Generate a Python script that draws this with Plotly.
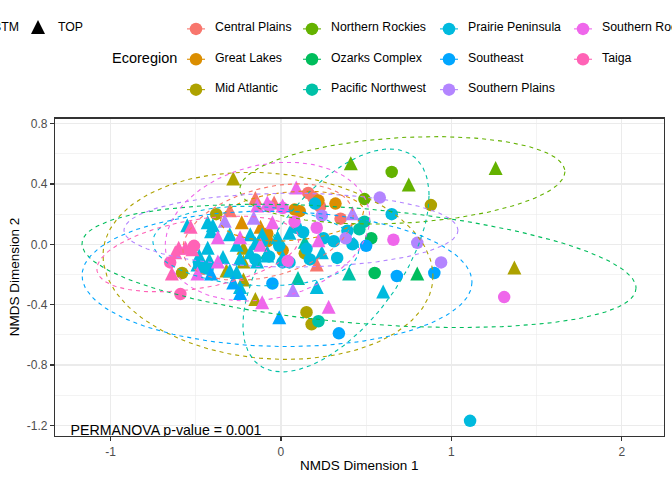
import numpy as np
import plotly.graph_objects as go

FONT = "Liberation Sans, Arial, sans-serif"

ECOREGIONS = ["Central Plains", "Great Lakes", "Mid Atlantic", "Northern Rockies",
              "Ozarks Complex", "Pacific Northwest", "Prairie Peninsula", "Southeast",
              "Southern Plains", "Southern Rockies", "Taiga"]
COLORS = ["#F8766D", "#DB8E00", "#AEA200", "#64B200", "#00BD5C", "#00C1A7",
          "#00BADE", "#00A6FF", "#B385FF", "#EF67EB", "#FF63B6"]

# ---- NMDS scores ----
CP_X = [-0.15, -0.30, -0.04, 0.21, 0.16, 0.19, 0.23, 0.35]
CP_Y = [0.30, 0.22, 0.27, -0.14, 0.34, 0.31, 0.25, 0.17]
CP_POS = ["TOP", "TOP", "TOP", "TOP", "BTM", "BTM", "BTM", "BTM"]

GL_X = [0.32, 0.22, 0.11, 0.08, -0.08, -0.08, 0.01, -0.23, -0.12]
GL_Y = [0.27, 0.29, 0.22, 0.23, 0.07, 0.02, -0.04, 0.14, 0.11]
GL_POS = ["BTM", "BTM", "BTM", "BTM", "BTM", "BTM", "BTM", "TOP", "TOP"]

MA_X = [-0.28, -0.38, -0.58, -0.22, -0.22, -0.32, -0.15, 0.14, 0.15, 0.18, 0.88, 1.37, -0.22]
MA_Y = [0.43, 0.20, -0.19, -0.03, -0.24, -0.18, -0.37, -0.06, -0.45, -0.53, 0.26, -0.16, -0.12]
MA_POS = ["TOP", "BTM", "BTM", "TOP", "TOP", "TOP", "TOP", "BTM", "BTM", "BTM", "BTM", "TOP", "TOP"]

NR_X = [0.41, 0.65, 0.75, 1.26, 0.49]
NR_Y = [0.53, 0.48, 0.39, 0.50, 0.30]
NR_POS = ["TOP", "BTM", "TOP", "TOP", "BTM"]

OZ_X = [0.53, 0.55, 0.80]
OZ_Y = [0.04, -0.19, -0.20]
OZ_POS = ["BTM", "BTM", "TOP"]

PNW_X = [0.49, 0.46, 0.40, 0.10, 0.14, 0.22]
PNW_Y = [0.15, 0.10, -0.20, -0.23, 0.01, -0.51]
PNW_POS = ["BTM", "BTM", "TOP", "TOP", "TOP", "BTM"]

PP_X = [0.65, 0.20, 0.09, 0.13, 0.15, 0.25, 0.31, 0.33, 0.39, 0.42, 0.17, 1.11,
        -0.01, 0.05, -0.11, -0.07, -0.15, 0.01, -0.48, -0.43,
        -0.55, -0.43, -0.41, -0.30, -0.26, -0.18, -0.15, -0.11, -0.08, -0.43,
        -0.48, -0.42, -0.34, -0.24, -0.18, -0.46, -0.30, -0.26, -0.14, -0.49,
        -0.24, -0.02, 0.05, 0.01, -0.08, 0.24, 0.21, 0.60, -0.40]
PP_Y = [0.20, 0.27, 0.11, 0.08, -0.03, 0.04, 0.02, -0.09, 0.09, 0.00, -0.10, -1.17,
        -0.01, -0.12, 0.02, -0.08, -0.10, -0.12, -0.13, -0.16,
        0.12, 0.14, 0.08, 0.06, -0.01, 0.06, 0.00, 0.06, -0.06, -0.03,
        -0.08, -0.11, -0.09, -0.10, -0.06, -0.16, -0.18, -0.19, -0.12, -0.14,
        -0.29, 0.04, 0.07, -0.09, -0.08, -0.06, -0.29, -0.32, 0.12]
PP_POS = ["BTM"] * 20 + ["TOP"] * 29

SE_X = [0.50, 0.68, 0.90, -0.05, 0.34, -0.41, -0.28, -0.24, -0.01]
SE_Y = [-0.01, -0.21, -0.19, -0.26, -0.59, -0.20, -0.26, -0.33, -0.49]
SE_POS = ["BTM", "BTM", "BTM", "BTM", "BTM", "TOP", "TOP", "TOP", "TOP"]

SP_X = [-0.33, -0.16, 0.42, 0.07, 0.24, 0.38, 0.58, 0.80, 0.94]
SP_Y = [0.15, 0.17, 0.20, -0.31, 0.19, 0.04, 0.31, 0.01, -0.12]
SP_POS = ["TOP", "TOP", "TOP", "TOP", "BTM", "BTM", "BTM", "BTM", "BTM"]

SR_X = [0.09, -0.14, -0.08, 0.01, -0.05, -0.37, -0.24, -0.12, -0.37, -0.49, -0.11, 0.28, 0.22,
        -0.07, 0.01, 0.08, 0.21, 0.04, 0.66, 1.31]
SR_Y = [0.37, 0.25, 0.27, 0.25, 0.14, 0.04, 0.04, -0.01, -0.12, -0.20, -0.39, -0.42, 0.02,
        0.25, 0.24, 0.15, 0.11, -0.11, 0.03, -0.35]
SR_POS = ["TOP"] * 13 + ["BTM"] * 7

TA_X = [-0.53, -0.60, -0.56, -0.52, -0.62, -0.64, -0.65, -0.59, -0.51]
TA_Y = [0.11, -0.03, -0.03, -0.04, -0.06, -0.20, -0.12, -0.33, -0.01]
TA_POS = ["TOP", "TOP", "TOP", "TOP", "TOP", "TOP", "BTM", "BTM", "BTM"]

# ---- 95% ellipse summaries per ecoregion (centre, half-extent, correlation) ----
ELL_CX = [-0.076, 0.065, -0.076, 0.713, 0.458, 0.323, -0.147, -0.023, 0.059, -0.079, -0.487]
ELL_CY = [0.081, 0.187, -0.143, 0.424, -0.143, -0.107, -0.011, -0.229, 0.094, 0.084, -0.064]
ELL_HX = [0.50, 0.42, 0.968, 0.954, 1.626, 0.546, 0.604, 1.144, 0.98, 0.60, 0.593]
ELL_HY = [0.32, 0.165, 0.62, 0.29, 0.409, 0.739, 0.264, 0.449, 0.245, 0.46, 0.251]
ELL_R = [0.35, 0.2, -0.11, 0.2, -0.36, 0.58, -0.1, -0.05, 0.0, 0.2, 0.4]

X_TICKS = [-1, 0, 1, 2]
X_TICKTEXT = ["-1", "0", "1", "2"]
Y_TICKS = [-1.2, -0.8, -0.4, 0.0, 0.4, 0.8]
Y_TICKTEXT = ["-1.2", "-0.8", "-0.4", "0.0", "0.4", "0.8"]
PERMANOVA_LABEL = "PERMANOVA p-value = 0.001"
POSITIONS = ["BTM", "TOP"]

REGION_DATA = {
    "Central Plains": (CP_X, CP_Y, CP_POS),
    "Great Lakes": (GL_X, GL_Y, GL_POS),
    "Mid Atlantic": (MA_X, MA_Y, MA_POS),
    "Northern Rockies": (NR_X, NR_Y, NR_POS),
    "Ozarks Complex": (OZ_X, OZ_Y, OZ_POS),
    "Pacific Northwest": (PNW_X, PNW_Y, PNW_POS),
    "Prairie Peninsula": (PP_X, PP_Y, PP_POS),
    "Southeast": (SE_X, SE_Y, SE_POS),
    "Southern Plains": (SP_X, SP_Y, SP_POS),
    "Southern Rockies": (SR_X, SR_Y, SR_POS),
    "Taiga": (TA_X, TA_Y, TA_POS),
}

W, H = 672, 480
PANEL_L, PANEL_R, PANEL_T, PANEL_B = 55, 664, 117, 436

CIRCLE_SIZE = 12.5
TRI_SIZE = 14
TRI_STANDOFF = 8


def marker_for(pos, color):
    if pos == "TOP":
        return dict(symbol="arrow-down", angle=180, standoff=TRI_STANDOFF,
                    size=TRI_SIZE, color=color, line=dict(width=0))
    return dict(symbol="circle", size=CIRCLE_SIZE, color=color, line=dict(width=0))


fig = go.Figure()

# points
for name, color in zip(ECOREGIONS, COLORS):
    xs, ys, ps = REGION_DATA[name]
    for pos in POSITIONS:
        sx = [x for x, p in zip(xs, ps) if p == pos]
        sy = [y for y, p in zip(ys, ps) if p == pos]
        if not sx:
            continue
        fig.add_trace(go.Scatter(x=sx, y=sy, mode="markers", marker=marker_for(pos, color),
                                 showlegend=False, hoverinfo="skip", xaxis="x", yaxis="y"))

# ellipses (drawn over the points, as in the original)
t = np.linspace(0, 2 * np.pi, 160)
for i, color in enumerate(COLORS):
    r = ELL_R[i]
    ex = ELL_CX[i] + ELL_HX[i] * np.cos(t)
    ey = ELL_CY[i] + ELL_HY[i] * (r * np.cos(t) - np.sqrt(1 - r * r) * np.sin(t))
    fig.add_trace(go.Scatter(x=ex, y=ey, mode="lines",
                             line=dict(color=color, width=1.1, dash="4px,4px"),
                             showlegend=False, hoverinfo="skip", xaxis="x", yaxis="y"))

# annotation inside panel (clipped at panel like ggplot)
fig.add_trace(go.Scatter(x=[-1.235], y=[-1.238], mode="text", text=[PERMANOVA_LABEL],
                         textposition="middle right",
                         textfont=dict(family=FONT, size=14.2, color="black"),
                         cliponaxis=True, showlegend=False, hoverinfo="skip",
                         xaxis="x", yaxis="y"))

# ---- legend drawn on an overlay axis in pixel units ----
KEY_COL_X = [196, 312, 449, 583]
KEY_ROW_Y = [27, 57.5, 88]
LABEL_DX = 17
TEXT_DY = -1.5
for i, (name, color) in enumerate(zip(ECOREGIONS, COLORS)):
    col, row = divmod(i, 3)
    kx, ky = KEY_COL_X[col], KEY_ROW_Y[row]
    fig.add_trace(go.Scatter(x=[kx - 9, kx + 9], y=[ky, ky], mode="lines",
                             line=dict(color=color, width=1.1),
                             showlegend=False, hoverinfo="skip", xaxis="x2", yaxis="y2",
                             cliponaxis=False))
    fig.add_trace(go.Scatter(x=[kx], y=[ky], mode="markers",
                             marker=dict(symbol="circle", size=CIRCLE_SIZE, color=color),
                             showlegend=False, hoverinfo="skip", xaxis="x2", yaxis="y2",
                             cliponaxis=False))
    fig.add_annotation(x=(kx + LABEL_DX) / W, y=1 - (ky + TEXT_DY) / H, xref="paper", yref="paper",
                       text=name, showarrow=False, xanchor="left", yanchor="middle",
                       font=dict(family=FONT, size=12.3, color="black"))

# shape legend
fig.add_trace(go.Scatter(x=[38], y=[26], mode="markers", marker=marker_for("TOP", "black"),
                         showlegend=False, hoverinfo="skip", xaxis="x2", yaxis="y2",
                         cliponaxis=False))
fig.add_annotation(x=56 / W, y=1 - (27 + TEXT_DY) / H, xref="paper", yref="paper", text="TOP",
                   showarrow=False, xanchor="left", yanchor="middle",
                   font=dict(family=FONT, size=12.3, color="black"))
fig.add_annotation(x=21 / W, y=1 - (27 + TEXT_DY) / H, xref="paper", yref="paper", text="BTM",
                   showarrow=False, xanchor="right", yanchor="middle",
                   font=dict(family=FONT, size=12.3, color="black"))
fig.add_annotation(x=110 / W, y=1 - (58 + TEXT_DY) / H, xref="paper", yref="paper", text="Ecoregion",
                   showarrow=False, xanchor="left", yanchor="middle",
                   font=dict(family=FONT, size=14.5, color="black"))

# axis titles
fig.add_annotation(x=(PANEL_L + PANEL_R) / 2 / W, y=1 - 465 / H, xref="paper", yref="paper",
                   text="NMDS Dimension 1", showarrow=False, xanchor="center", yanchor="middle",
                   font=dict(family=FONT, size=13.5, color="black"))
fig.add_annotation(x=14 / W, y=1 - (PANEL_T + PANEL_B) / 2 / H, xref="paper", yref="paper",
                   text="NMDS Dimension 2", showarrow=False, xanchor="center", yanchor="middle",
                   textangle=-90, font=dict(family=FONT, size=13.5, color="black"))

axis_common = dict(
    showgrid=True, gridcolor="#EBEBEB", gridwidth=1.1, zeroline=False,
    showline=True, mirror=True, linecolor="#333333", linewidth=1.1,
    ticks="outside", ticklen=4, tickwidth=1.1, tickcolor="#333333",
    tickfont=dict(family=FONT, size=12, color="#4D4D4D"),
)

fig.update_layout(
    width=W, height=H, autosize=False,
    margin=dict(l=0, r=0, t=0, b=0, pad=0),
    paper_bgcolor="white", plot_bgcolor="rgba(0,0,0,0)",
    showlegend=False,
    xaxis=dict(domain=[PANEL_L / W, PANEL_R / W], range=[-1.326, 2.248],
               tickmode="array", tickvals=X_TICKS, ticktext=X_TICKTEXT,
               minor=dict(tickvals=[-0.5, 0.5, 1.5], showgrid=True, gridcolor="#EBEBEB",
                          gridwidth=0.6, ticks=""),
               anchor="y", **axis_common),
    yaxis=dict(domain=[1 - PANEL_B / H, 1 - PANEL_T / H], range=[-1.272, 0.834],
               tickmode="array", tickvals=Y_TICKS, ticktext=Y_TICKTEXT,
               minor=dict(tickvals=[-1.0, -0.6, -0.2, 0.2, 0.6], showgrid=True,
                          gridcolor="#EBEBEB", gridwidth=0.6, ticks=""),
               anchor="x", **axis_common),
    xaxis2=dict(domain=[0, 1], range=[0, W], visible=False, anchor="y2", fixedrange=True),
    yaxis2=dict(domain=[0, 1], range=[H, 0], visible=False, anchor="x2", fixedrange=True),
)

fig.write_html("out.html", config={"displayModeBar": False, "staticPlot": True},
               post_script="document.body.style.margin='0';document.body.style.overflow='hidden';")
